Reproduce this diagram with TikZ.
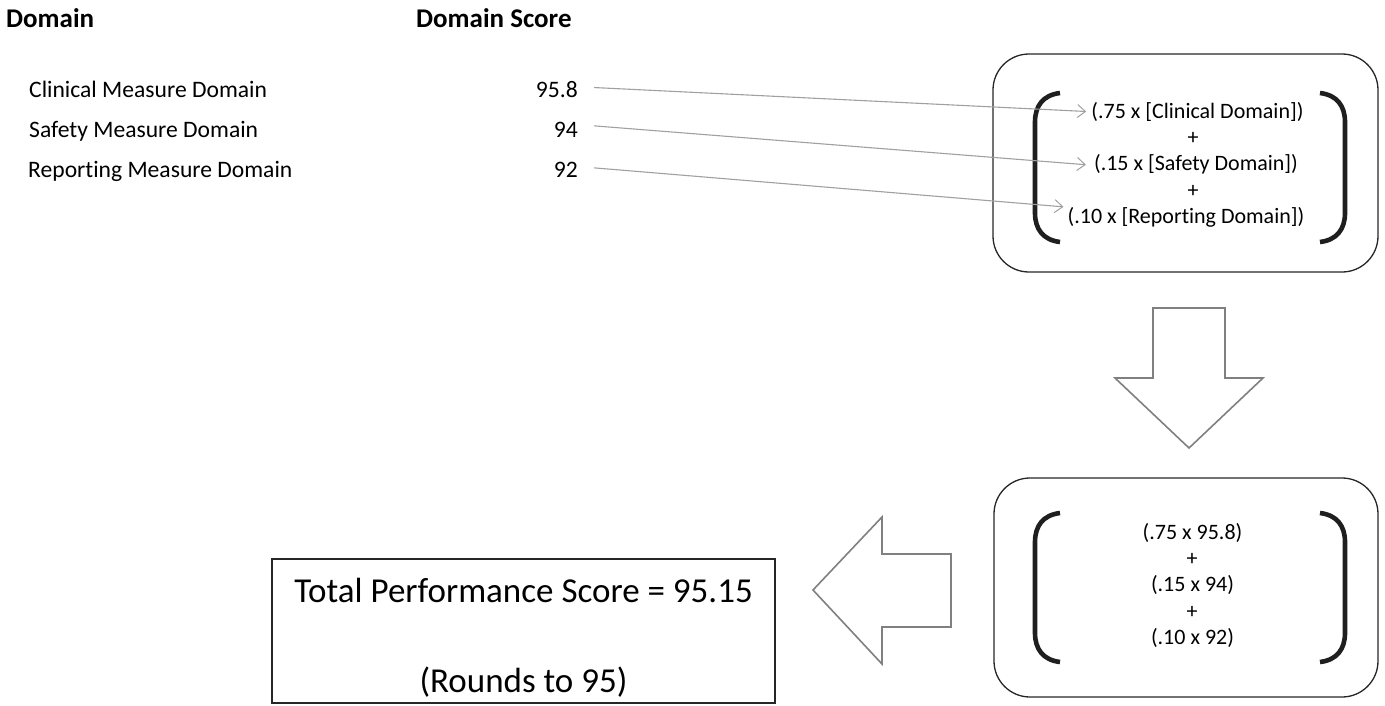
\documentclass[tikz,border=0pt]{standalone}
\usepackage{fontspec}
\setmainfont{Carlito}[Ligatures=NoCommon]
\usetikzlibrary{arrows.meta}
\definecolor{conn}{HTML}{A0A0A0}
\definecolor{blockgray}{HTML}{808080}
\tikzset{
  hdr/.style={font=\bfseries\fontsize{27}{32}\selectfont, anchor=base west, inner sep=0pt},
  lbl/.style={font=\fontsize{23.6}{28}\selectfont, anchor=base west, inner sep=0pt},
  num/.style={font=\fontsize{23.6}{28}\selectfont, anchor=base east, inner sep=0pt},
  fml/.style={font=\fontsize{22}{26}\selectfont, anchor=base, inner sep=0pt},
  tot/.style={font=\fontsize{35}{42}\selectfont, anchor=base, inner sep=0pt},
  rbox/.style={draw=black!85, line width=1.3pt, rounded corners=36pt, inner sep=0pt},
  sbox/.style={draw=black!85, line width=1.3pt, inner sep=0pt},
  brk/.style={draw=black!88, line width=4.6pt},
  conline/.style={draw=conn, line width=1.1pt, -{Straight Barb[length=8pt,width=13pt,line width=1pt]}},
  blockarrow/.style={draw=blockgray, line width=1.6pt, fill=white, line join=miter}
}
\begin{document}
\begin{tikzpicture}[x=1pt, y=-1pt]
\useasboundingbox (0,0) rectangle (1385,705);

% headers
\node[hdr] (hdom) at (6,27) {Domain};
\node[hdr] (hscore) at (416,27) {Domain Score};

% labels
\node[lbl] (l1) at (29,97) {Clinical Measure Domain};
\node[lbl] (l2) at (29,137) {Safety Measure Domain};
\node[lbl] (l3) at (28,177) {Reporting Measure Domain};

% scores
\node[num] (s1) at (578,97) {95.8};
\node[num] (s2) at (578,137) {94};
\node[num] (s3) at (578,177) {92};

% top rounded box
\node[rbox, minimum width=385pt, minimum height=218pt] (topbox) at (1185.5,163) {};
\node[fml] (f1) at (1197.5,118) {(.75 x [Clinical Domain])};
\node[fml] (p1) at (1193,144) {+};
\node[fml] (f2) at (1196,170) {(.15 x [Safety Domain])};
\node[fml] (p2) at (1193,197) {+};
\node[fml] (f3) at (1186,223) {(.10 x [Reporting Domain])};

\draw[brk] (1060,93) .. controls (1043,95) and (1035,106) .. (1035,122) -- (1035,213) .. controls (1035,229) and (1043,240) .. (1060,242);
\draw[brk] (1320,93) .. controls (1337,95) and (1345,106) .. (1345,122) -- (1345,213) .. controls (1345,229) and (1337,240) .. (1320,242);

% connectors
\draw[conline] ([shift={(16,-1.5)}]s1.east) -- ([shift={(-5,0)}]f1.west);
\draw[conline] ([shift={(16,-3.5)}]s2.east) -- ([shift={(-8,1)}]f2.west);
\draw[conline] ([shift={(16,-1.5)}]s3.east) -- ([shift={(-4,-10)}]f3.west);

% down block arrow
\draw[blockarrow] (1153,308) -- (1225,308) -- (1225,378) -- (1263,378) -- (1189,448) -- (1115,378) -- (1153,378) -- cycle;

% bottom rounded box
\node[rbox, minimum width=384pt, minimum height=219pt] (botbox) at (1186,587.5) {};
\node[fml] (g1) at (1192.5,539) {(.75 x 95.8)};
\node[fml] (q1) at (1192,565) {+};
\node[fml] (g2) at (1192.5,591) {(.15 x 94)};
\node[fml] (q2) at (1192,618) {+};
\node[fml] (g3) at (1192.5,644) {(.10 x 92)};

\draw[brk] (1060,513) .. controls (1043,515) and (1035,526) .. (1035,542) -- (1035,633) .. controls (1035,649) and (1043,660) .. (1060,662);
\draw[brk] (1320,513) .. controls (1337,515) and (1345,526) .. (1345,542) -- (1345,633) .. controls (1345,649) and (1337,660) .. (1320,662);

% left block arrow
\draw[blockarrow] (813,590) -- (882,517) -- (882,554) -- (951,554) -- (951,627) -- (882,627) -- (882,664) -- cycle;

% total box
\node[sbox, minimum width=503pt, minimum height=144pt] (totbox) at (523.5,631) {};
\node[tot] (t1) at (523.5,602) {Total Performance Score = 95.15};
\node[tot] (t2) at (523.5,692) {(Rounds to 95)};
\end{tikzpicture}
\end{document}
